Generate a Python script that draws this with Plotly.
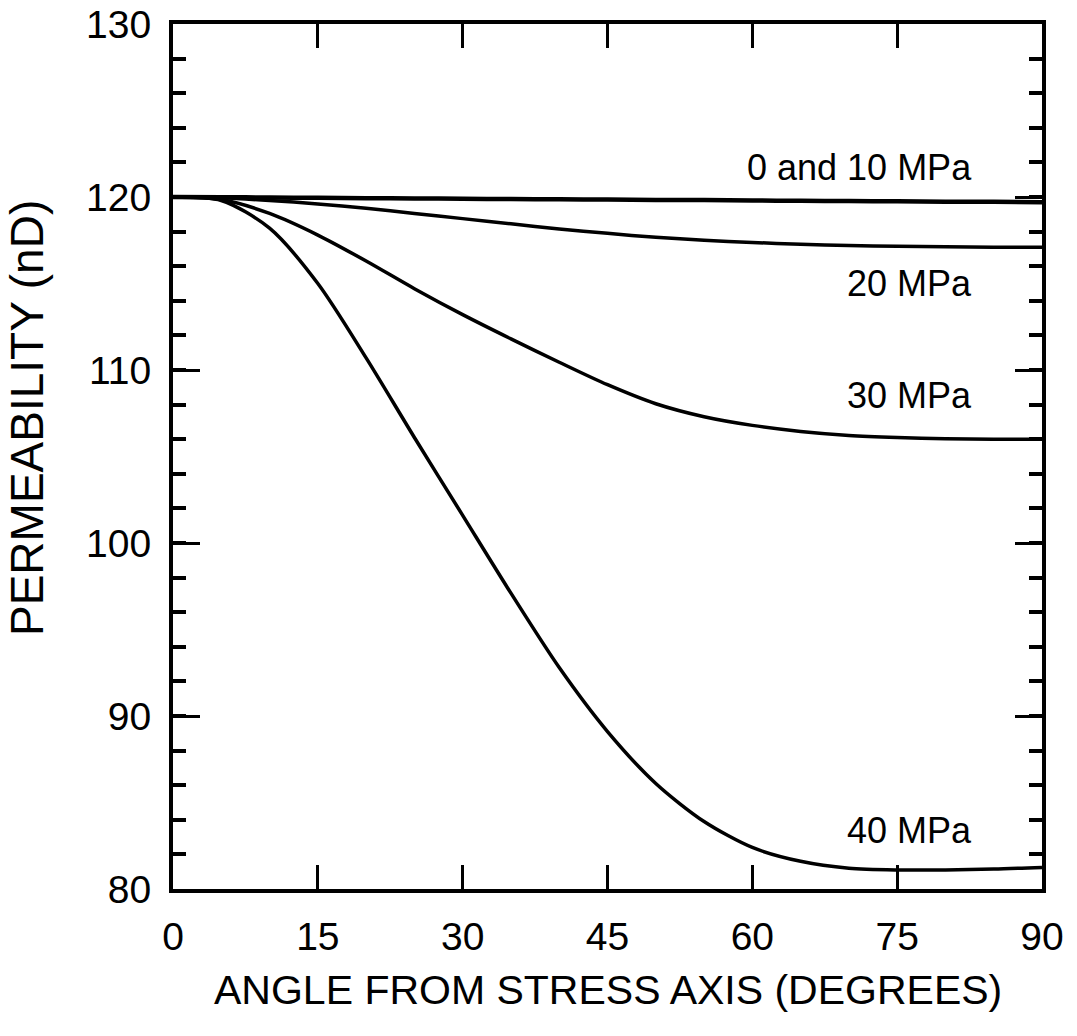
import plotly.graph_objects as go

# Angle from the stress axis (degrees)
angles = [0, 5, 10, 15, 20, 25, 30, 35, 40, 45, 50, 55, 60, 65, 70, 75, 80, 85, 90]

# Permeability (nD) at each confining stress level
perm_0_10 = [120.0, 119.99, 119.97, 119.95, 119.93, 119.92, 119.9, 119.88, 119.87, 119.85,
             119.83, 119.82, 119.8, 119.78, 119.77, 119.75, 119.73, 119.72, 119.7]
perm_20 = [120.0, 119.95, 119.8, 119.6, 119.35, 119.05, 118.75, 118.45, 118.15, 117.9,
           117.67, 117.5, 117.37, 117.27, 117.2, 117.15, 117.12, 117.1, 117.1]
perm_30 = [120.0, 119.85, 119.05, 117.8, 116.3, 114.7, 113.2, 111.8, 110.45, 109.15,
           108.05, 107.3, 106.8, 106.45, 106.22, 106.1, 106.03, 106.0, 106.0]
perm_40 = [120.0, 119.8, 118.2, 115.0, 110.7, 106.1, 101.6, 97.1, 92.8, 89.1,
           86.1, 83.9, 82.4, 81.6, 81.2, 81.1, 81.1, 81.15, 81.25]

series = [
    ("0 and 10 MPa", perm_0_10, 4.5, 121.7),
    ("20 MPa", perm_20, 3.5, 115.0),
    ("30 MPa", perm_30, 3.5, 108.5),
    ("40 MPa", perm_40, 3.5, 83.4),
]

x_ticks = [0, 15, 30, 45, 60, 75, 90]
y_ticks = [80, 90, 100, 110, 120, 130]

FONT = "Liberation Sans, Arial, Helvetica, sans-serif"

fig = go.Figure()
for name, vals, lw, label_y in series:
    fig.add_trace(go.Scatter(
        x=angles, y=vals, mode="lines", name=name,
        line=dict(color="black", width=lw, shape="spline", smoothing=0.8),
        showlegend=False, hoverinfo="skip",
    ))
    fig.add_annotation(
        x=83.0, y=label_y, xref="x", yref="y", text=name, showarrow=False,
        xanchor="right", yanchor="middle",
        font=dict(family=FONT, size=36, color="black"),
    )

fig.update_layout(
    width=1077, height=1036,
    margin=dict(l=173, r=35, t=24, b=147),
    paper_bgcolor="white", plot_bgcolor="white",
    font=dict(family=FONT, color="black"),
)

fig.update_xaxes(
    range=[0, 90], tickvals=x_ticks, ticktext=[str(v) for v in x_ticks],
    showgrid=False, zeroline=False, automargin=False,
    showline=True, linecolor="black", linewidth=4, mirror="allticks",
    ticks="inside", ticklen=24, tickwidth=2.5, tickcolor="black",
    tickfont=dict(family=FONT, size=39, color="black"),
    ticklabelstandoff=10,
)
fig.update_yaxes(
    range=[80, 130], tickvals=y_ticks, ticktext=[str(v) for v in y_ticks],
    showgrid=False, zeroline=False, automargin=False,
    showline=True, linecolor="black", linewidth=4, mirror="allticks",
    ticks="inside", ticklen=27, tickwidth=3, tickcolor="black",
    minor=dict(dtick=2, ticks="inside", ticklen=13, tickwidth=4, tickcolor="black", showgrid=False),
    tickfont=dict(family=FONT, size=39, color="black"),
    ticklabelstandoff=10,
)

# Axis titles
fig.add_annotation(
    x=0.5, y=-0.1168, xref="paper", yref="paper",
    text="ANGLE FROM STRESS AXIS (DEGREES)", showarrow=False,
    xanchor="center", yanchor="middle",
    font=dict(family=FONT, size=41, color="black"),
)
fig.add_annotation(
    x=-0.168, y=0.5445, xref="paper", yref="paper",
    text="PERMEABILITY (nD)", showarrow=False, textangle=-90,
    xanchor="center", yanchor="middle",
    font=dict(family=FONT, size=46, color="black"),
)

fig.write_html("out.html")
